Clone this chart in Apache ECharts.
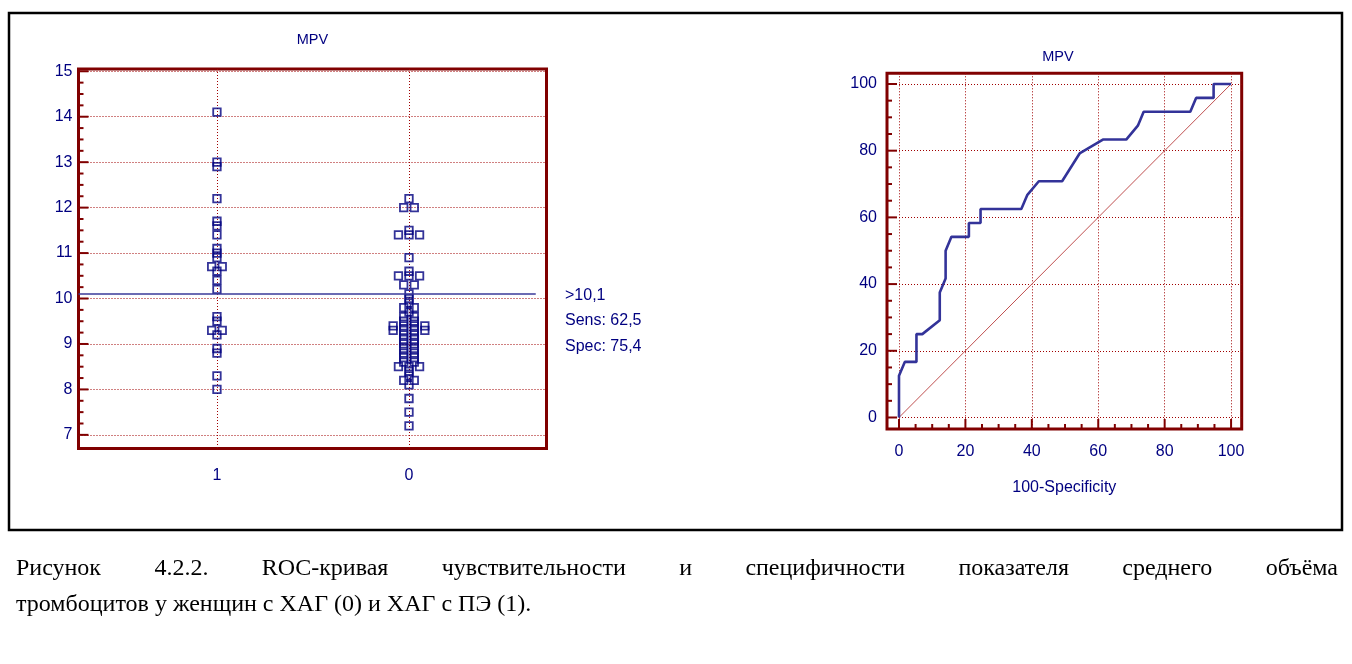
<!DOCTYPE html>
<html><head><meta charset="utf-8">
<script src="https://cdn.jsdelivr.net/npm/echarts@6/dist/echarts.min.js"></script>
<style>
html,body{margin:0;padding:0;background:#fff;}
#chart{position:absolute;left:0;top:0;width:1352px;height:664px;}
#caption{position:absolute;left:16px;top:549px;width:1322px;font-family:"Liberation Serif","Times New Roman",serif;font-size:24px;line-height:36px;color:#000;}
#caption .l1{text-align:justify;text-align-last:justify;}
</style></head><body>
<div id="chart"></div>
<div id="caption"><div class="l1">Рисунок 4.2.2. ROC-кривая чувствительности и специфичности показателя среднего объёма</div><div>тромбоцитов у женщин с ХАГ (0) и ХАГ с ПЭ (1).</div></div>
<script>
// ---------- data ----------
const plotTitle = 'MPV';
const groupLabels = ['1', '0'];           // x position 1 -> group "1", position 2 -> group "0"
const groupPositions = [1, 2];
const group1Values = [14.1, 13.0, 12.9, 12.2, 11.7, 11.6, 11.4, 11.1, 11.0, 10.9, 10.7, 10.7, 10.6, 10.4, 10.2,
  9.6, 9.5, 9.3, 9.3, 9.2, 8.9, 8.8, 8.3, 8.0];
const group0Values = [12.2, 12.0, 12.0, 11.5, 11.4, 11.4, 11.4, 10.9, 10.6, 10.5, 10.5, 10.5, 10.3, 10.3,
  10.1, 10.0, 9.9, 9.8, 9.8, 9.7, 9.6, 9.6, 9.5, 9.5, 9.4, 9.4, 9.4, 9.4, 9.3, 9.3, 9.3, 9.3,
  9.2, 9.2, 9.1, 9.1, 9.0, 9.0, 8.9, 8.9, 8.8, 8.8, 8.7, 8.7, 8.6, 8.6, 8.5, 8.5, 8.5, 8.4, 8.3,
  8.2, 8.2, 8.1, 7.8, 7.5, 7.2];
const cutoffValue = 10.1;
const cutoffText = ['>10,1', 'Sens: 62,5', 'Spec: 75,4'];
const dotMajorTicks = [7, 8, 9, 10, 11, 12, 13, 14, 15];
const dotMinorTicks = [7.25, 7.5, 7.75, 8.25, 8.5, 8.75, 9.25, 9.5, 9.75, 10.25, 10.5, 10.75,
  11.25, 11.5, 11.75, 12.25, 12.5, 12.75, 13.25, 13.5, 13.75, 14.25, 14.5, 14.75];
const rocFpr = [0, 0, 1.75, 5.26, 5.26, 7.02, 12.28, 12.28, 14.04, 14.04, 15.79, 21.05, 21.05, 24.56, 24.56,
  36.84, 38.6, 42.11, 49.12, 54.39, 61.4, 68.42, 71.93, 73.68, 87.72, 89.47, 94.74, 94.74, 100];
const rocTpr = [0, 12.5, 16.67, 16.67, 25, 25, 29.17, 37.5, 41.67, 50, 54.17, 54.17, 58.33, 58.33, 62.5,
  62.5, 66.67, 70.83, 70.83, 79.17, 83.33, 83.33, 87.5, 91.67, 91.67, 95.83, 95.83, 100, 100];
const rocMajorTicks = [0, 20, 40, 60, 80, 100];
const rocMinorTicks = [5, 10, 15, 25, 30, 35, 45, 50, 55, 65, 70, 75, 85, 90, 95];
const rocXName = '100-Specificity';

// ---------- styles ----------
const NAVY = '#000080';
const FRAME = '#800000';
const GRIDC = '#a00000';
const FONT = '"Liberation Sans", Arial, sans-serif';

// spread equal values side by side (dot plot layout)
function spread(values, xc, step) {
  const counts = {}, seen = {};
  values.forEach(v => counts[v] = (counts[v] || 0) + 1);
  return values.map(v => {
    const k = counts[v];
    const i = (seen[v] = (seen[v] || 0) + 1) - 1;
    return [xc + (i - (k - 1) / 2) * step, v];
  });
}
const STEP = 0.055;
const dotData = spread(group1Values, groupPositions[0], STEP).concat(spread(group0Values, groupPositions[1], STEP));
const rocData = rocFpr.map((x, i) => [x, rocTpr[i]]);

const split = () => ({show: true, lineStyle: {color: GRIDC, type: [1, 2], width: 1, opacity: 1}});
const lbl = (extra) => Object.assign({color: NAVY, fontSize: 16, fontFamily: FONT}, extra);

// inward tick marks drawn through the axis scales
function tickSeries(xIdx, yIdx, orient, vals, len) {
  return {
    type: 'custom', xAxisIndex: xIdx, yAxisIndex: yIdx, silent: true, z: 50, clip: false,
    data: vals.map(v => orient === 'y' ? [1, v] : [v, 1]),
    renderItem: (params, api) => {
      const cs = params.coordSys;
      const p = api.coord([api.value(0), api.value(1)]);
      const shape = orient === 'y'
        ? {x1: cs.x, y1: p[1], x2: cs.x + len, y2: p[1]}
        : {x1: p[0], y1: cs.y + cs.height, x2: p[0], y2: cs.y + cs.height - len};
      return {type: 'line', shape: shape, style: {stroke: FRAME, lineWidth: 2, fill: null}};
    }
  };
}

const chart = echarts.init(document.getElementById('chart'));
chart.setOption({
  animation: false,
  backgroundColor: '#fff',
  grid: [
    {left: 78.5, top: 69, width: 468, height: 379.5, show: true, borderColor: FRAME, borderWidth: 3, backgroundColor: 'transparent'},
    {left: 887, top: 73.3, width: 354.7, height: 355.7, show: true, borderColor: FRAME, borderWidth: 3, backgroundColor: 'transparent'}
  ],
  xAxis: [
    {type: 'value', gridIndex: 0, min: 0.279, max: 2.716, position: 'bottom',
     axisLine: {show: false}, axisTick: {show: false, customValues: groupPositions},
     axisLabel: lbl({customValues: groupPositions, margin: 19, formatter: v => groupLabels[Math.round(v) - 1]}),
     splitLine: split()},
    {type: 'value', gridIndex: 1, min: -3.61, max: 103.2, position: 'bottom',
     axisLine: {show: false, onZero: false}, axisTick: {show: false, customValues: rocMajorTicks},
     axisLabel: lbl({customValues: rocMajorTicks, margin: 15}),
     splitLine: split(),
     name: rocXName, nameLocation: 'middle', nameGap: 51,
     nameTextStyle: {color: NAVY, fontSize: 16, fontFamily: FONT}}
  ],
  yAxis: [
    {type: 'value', gridIndex: 0, min: 6.7, max: 15.05, position: 'left',
     axisLine: {show: false}, axisTick: {show: false, customValues: dotMajorTicks},
     axisLabel: lbl({customValues: dotMajorTicks, margin: 6}),
     splitLine: split()},
    {type: 'value', gridIndex: 1, min: -3.45, max: 103.2, position: 'left',
     axisLine: {show: false, onZero: false}, axisTick: {show: false, customValues: rocMajorTicks},
     axisLabel: lbl({customValues: rocMajorTicks, margin: 10}),
     splitLine: split()}
  ],
  series: [
    {type: 'scatter', xAxisIndex: 0, yAxisIndex: 0, data: dotData, symbol: 'rect', symbolSize: 7.5,
     itemStyle: {color: 'rgba(255,255,255,0)', borderColor: NAVY, borderWidth: 1.8},
     markLine: {silent: true, symbol: 'none', label: {show: false},
       lineStyle: {color: '#3a3a9a', type: 'solid', width: 1.6},
       data: [[{coord: [0.279, cutoffValue]}, {coord: [2.66, cutoffValue]}]]}},
    {type: 'line', xAxisIndex: 1, yAxisIndex: 1, data: [[0, 0], [100, 100]], symbol: 'none',
     lineStyle: {color: '#c05050', width: 1}},
    {type: 'line', xAxisIndex: 1, yAxisIndex: 1, data: rocData, symbol: 'none',
     lineStyle: {color: '#333399', width: 2.6}},
    tickSeries(0, 0, 'y', dotMajorTicks, 10),
    tickSeries(0, 0, 'y', dotMinorTicks, 5),
    tickSeries(1, 1, 'y', rocMajorTicks, 10),
    tickSeries(1, 1, 'y', rocMinorTicks, 5),
    tickSeries(1, 1, 'x', rocMajorTicks, 10),
    tickSeries(1, 1, 'x', rocMinorTicks, 5)
  ],
  graphic: [
    {type: 'rect', shape: {x: 9, y: 13, width: 1333, height: 517}, style: {fill: 'none', stroke: '#000', lineWidth: 2.5}, silent: true},
    {type: 'text', x: 312.5, y: 40, style: {text: plotTitle, fill: NAVY, font: '14.5px ' + FONT, align: 'center', verticalAlign: 'middle'}},
    {type: 'text', x: 1058, y: 57, style: {text: plotTitle, fill: NAVY, font: '14.5px ' + FONT, align: 'center', verticalAlign: 'middle'}},
    {type: 'text', x: 565, y: 296, style: {text: cutoffText[0], fill: NAVY, font: '16px ' + FONT, align: 'left', verticalAlign: 'middle'}},
    {type: 'text', x: 565, y: 321, style: {text: cutoffText[1], fill: NAVY, font: '16px ' + FONT, align: 'left', verticalAlign: 'middle'}},
    {type: 'text', x: 565, y: 347, style: {text: cutoffText[2], fill: NAVY, font: '16px ' + FONT, align: 'left', verticalAlign: 'middle'}}
  ]
});
</script>
</body></html>
